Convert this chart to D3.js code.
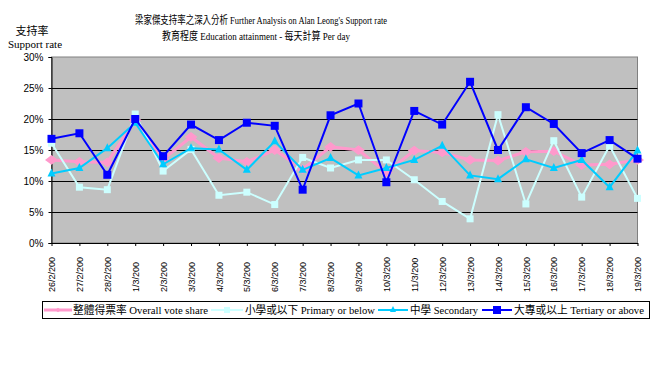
<!DOCTYPE html>
<html><head><meta charset="utf-8">
<script src="https://cdn.jsdelivr.net/npm/d3@7"></script>
<style>body{margin:0;background:#fff}svg{display:block}</style>
</head><body><svg id="c" width="661" height="368"></svg>
<script>
const categories = ["26/2/200","27/2/200","28/2/200","1/3/200","2/3/200","3/3/200","4/3/200","5/3/200","6/3/200","7/3/200","8/3/200","9/3/200","10/3/200","11/3/200","12/3/200","13/3/200","14/3/200","15/3/200","16/3/200","17/3/200","18/3/200","19/3/200"];
const overall   = [13.4,13.1,13.0,19.8,13.5,17.1,13.7,13.1,15.0,11.9,15.5,15.0,11.4,14.9,14.6,13.4,13.3,14.7,14.8,12.6,12.7,13.4];
const primary   = [16.1,9.0,8.6,20.8,11.6,15.1,7.7,8.2,6.2,13.8,12.1,13.4,13.4,10.2,6.7,3.9,20.7,6.3,16.5,7.4,15.7,7.2];
const secondary = [11.2,12.1,15.3,19.4,12.7,15.3,15.1,11.8,16.4,11.8,13.7,10.9,12.1,13.4,15.7,10.9,10.3,13.5,12.1,13.4,9.0,14.9];
const tertiary  = [16.8,17.7,11.0,20.0,14.0,19.1,16.6,19.4,18.9,8.6,20.6,22.5,9.8,21.3,19.1,26.0,15.0,21.9,19.2,14.5,16.6,13.6];
const yTicks = [0,5,10,15,20,25,30];
const seriesNames = ["整體得票率 Overall vote share","小學或以下 Primary or below","中學 Secondary","大專或以上 Tertiary or above"];
const titleLines = ["梁家傑支持率之深入分析 Further Analysis on Alan Leong's Support rate","教育程度 Education attainment - 每天計算 Per day"];

const svg = d3.select("#c");
const serif = "'Liberation Serif','Noto Sans CJK TC',serif";
const sans = "'Liberation Sans','Noto Sans CJK TC',sans-serif";
const L=51.5,R=637.5,T=57,B=243;
const x = d3.scalePoint().domain(categories).range([L,R]).padding(0);
const y = d3.scaleLinear().domain([0,30]).range([B,T]);

// titles
svg.append("text").attr("x",261).attr("y",24).attr("text-anchor","middle").attr("font-family",serif).attr("font-size",11)
  .attr("textLength",252).attr("lengthAdjust","spacingAndGlyphs").text(titleLines[0]);
svg.append("text").attr("x",256).attr("y",40).attr("text-anchor","middle").attr("font-family",serif).attr("font-size",11)
  .attr("textLength",188).attr("lengthAdjust","spacingAndGlyphs").text(titleLines[1]);
svg.append("text").attr("x",32).attr("y",35).attr("text-anchor","middle").attr("font-family",serif).attr("font-size",11).text("支持率");
svg.append("text").attr("x",35).attr("y",48).attr("text-anchor","middle").attr("font-family",serif).attr("font-size",11).text("Support rate");

// plot bg
svg.append("rect").attr("x",L).attr("y",T).attr("width",R-L).attr("height",B-T).attr("fill","#c0c0c0").attr("stroke","#808080").attr("stroke-width",1);
// gridlines
svg.append("g").selectAll("line").data(yTicks.filter(d=>d>0&&d<30)).join("line")
  .attr("x1",L).attr("x2",R).attr("y1",d=>Math.round(y(d))+0.5).attr("y2",d=>Math.round(y(d))+0.5).attr("stroke","#000");

// axes
const yAxis = d3.axisLeft(y).tickValues(yTicks).tickFormat(d=>d+"%").tickSize(3).tickPadding(5);
const gy = svg.append("g").attr("transform",`translate(${L},0)`).call(yAxis);
gy.select(".domain").attr("stroke","#000");
gy.selectAll("text").attr("font-family",sans).attr("font-size",10).attr("fill","#000");
const xAxis = d3.axisBottom(x).tickSize(3).tickSizeOuter(0);
const gx = svg.append("g").attr("transform",`translate(0,${B})`).call(xAxis);
gx.select(".domain").attr("stroke","#000");
gx.selectAll("text").attr("font-family",sans).attr("font-size",9).attr("fill","#000")
  .attr("transform","rotate(-90)").attr("text-anchor","start").attr("x",-49).attr("y",0).attr("dy","0.35em");

const series = [
  {name:seriesNames[0],data:overall,color:"#ff99cc",w:3,marker:"diamond",size:13},
  {name:seriesNames[1],data:primary,color:"#ccffff",w:2,marker:"square",size:7},
  {name:seriesNames[2],data:secondary,color:"#00ccff",w:2,marker:"triangle",size:8},
  {name:seriesNames[3],data:tertiary,color:"#0000ff",w:2,marker:"square",size:8}
];
function drawMarker(g,type,cx,cy,s,color){
  if(type==="square") g.append("rect").attr("x",cx-s/2).attr("y",cy-s/2).attr("width",s).attr("height",s).attr("fill",color);
  else if(type==="diamond") g.append("path").attr("d",`M${cx},${cy-s/2*0.75}L${cx+s/2},${cy}L${cx},${cy+s/2*0.75}L${cx-s/2},${cy}Z`).attr("fill",color);
  else g.append("path").attr("d",`M${cx},${cy-s/2-1}L${cx+s/2},${cy+s/2-1}L${cx-s/2},${cy+s/2-1}Z`).attr("fill",color);
}
const line = d3.line().x((d,i)=>x(categories[i])).y(d=>y(d));
series.forEach(s=>{
  const g = svg.append("g");
  g.append("path").datum(s.data).attr("d",line).attr("fill","none").attr("stroke",s.color).attr("stroke-width",s.w);
  s.data.forEach((v,i)=>drawMarker(g,s.marker,x(categories[i]),y(v),s.size,s.color));
});

// legend
svg.append("rect").attr("x",42.5).attr("y",301.5).attr("width",607).attr("height",17).attr("fill","#fff").attr("stroke","#000");
const leg = [
  {l0:44,l1:72,tx:73,tw:135,ms:6},
  {l0:211,l1:243,tx:245,tw:130,ms:6},
  {l0:378,l1:408,tx:410,tw:68,ms:6},
  {l0:482,l1:512,tx:514,tw:130,ms:8}
];
series.forEach((s,i)=>{
  const p=leg[i], g=svg.append("g"), cy=310;
  g.append("line").attr("x1",p.l0).attr("x2",p.l1).attr("y1",cy).attr("y2",cy).attr("stroke",s.color).attr("stroke-width",s.w);
  drawMarker(g,s.marker,(p.l0+p.l1)/2,cy,p.ms,s.color);
  g.append("text").attr("x",p.tx).attr("y",cy+4).attr("font-family",serif).attr("font-size",11)
    .attr("textLength",p.tw).attr("lengthAdjust","spacingAndGlyphs").text(s.name);
});
</script></body></html>
